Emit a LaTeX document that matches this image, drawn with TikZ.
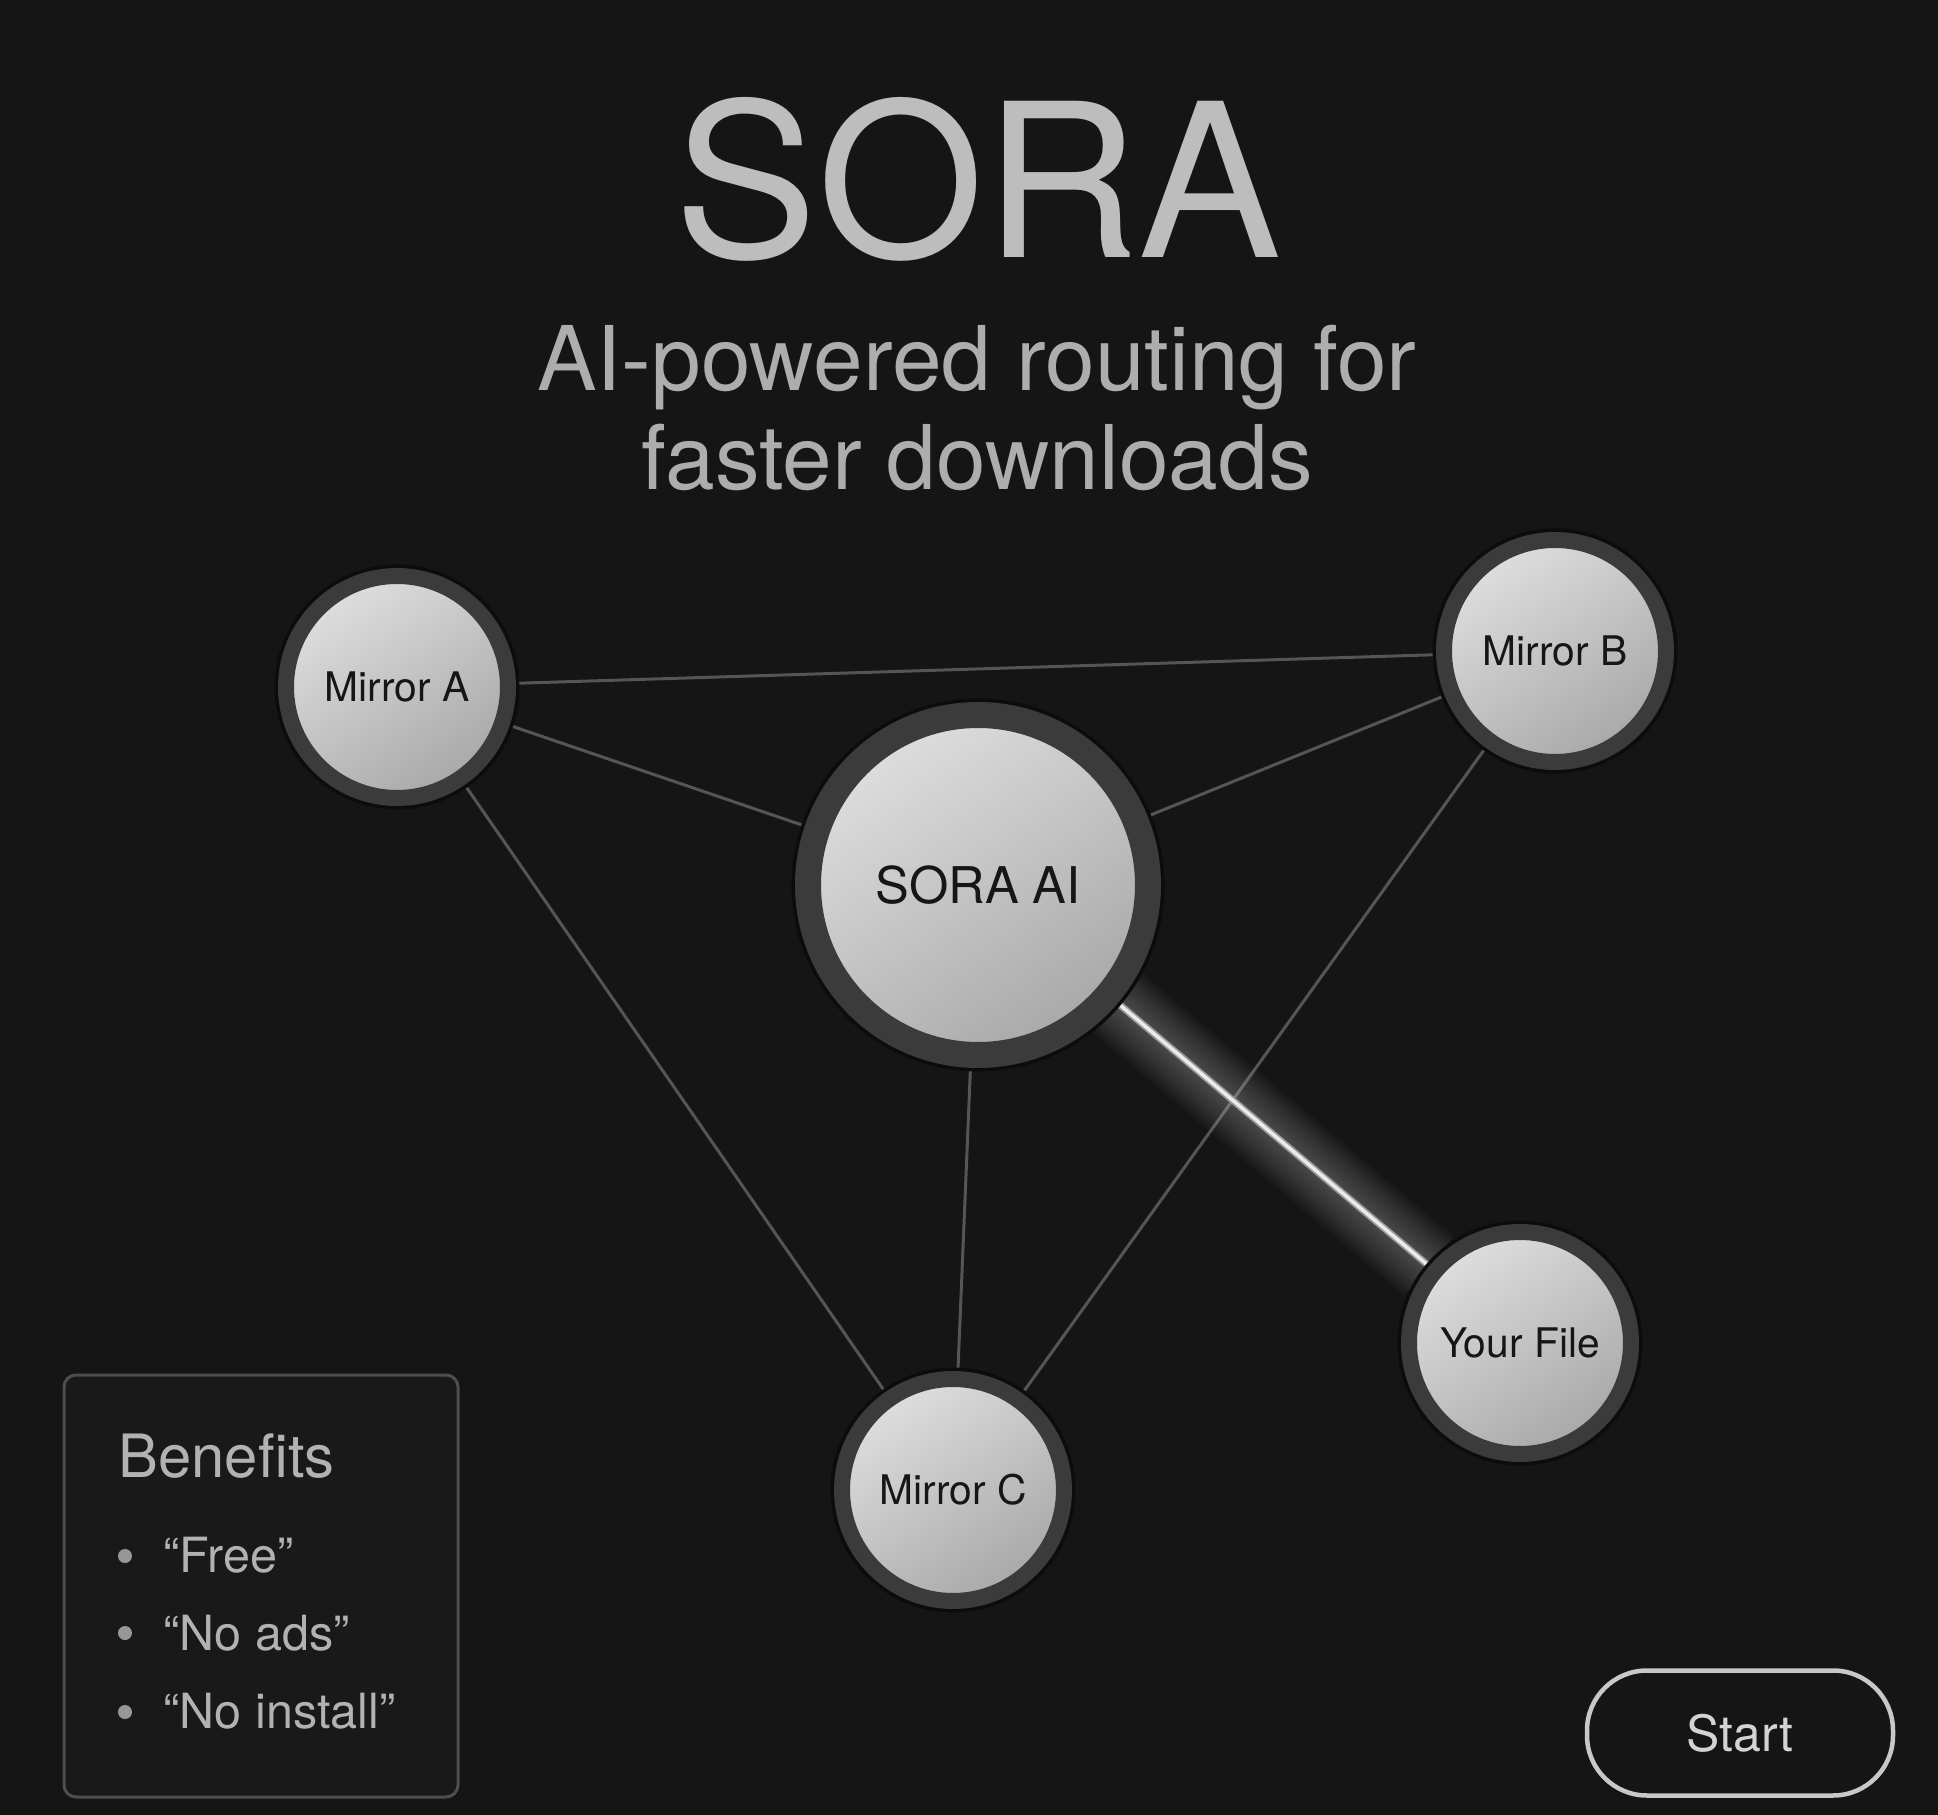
\documentclass[tikz,border=0pt]{standalone}
\usepackage{fontspec}
\setmainfont{TeX Gyre Heros}
\usetikzlibrary{positioning}
\definecolor{soraback}{HTML}{151515}
\definecolor{soraring}{HTML}{3B3B3B}
\definecolor{sorarim}{HTML}{0C0C0C}
\definecolor{silverhi}{HTML}{DEDEDE}
\definecolor{silverlo}{HTML}{A8A8A8}
\definecolor{soraink}{HTML}{161616}
\definecolor{soratitle}{HTML}{BDBDBD}
\definecolor{sorasub}{HTML}{ADADAD}
\definecolor{soralink}{HTML}{555555}
\definecolor{glowedge}{HTML}{9A9A9A}
\definecolor{panelline}{HTML}{4E4E4E}
\definecolor{paneltext}{HTML}{B2B2B2}
\pgfdeclarelayer{backdrop}
\pgfdeclarelayer{links}
\pgfsetlayers{backdrop,links,main}
\tikzset{
  mirror/.style   = {circle, draw=soraring, line width=1.6mm, minimum size=22.2mm, inner sep=0pt,
                     top color=silverhi, bottom color=silverlo, shading angle=35,
                     preaction={draw=sorarim, line width=2.3mm},
                     text=soraink, font=\fontsize{11.6}{14}\selectfont},
  hub/.style      = {mirror, line width=2.6mm, minimum size=34mm,
                     preaction={draw=sorarim, line width=3.3mm},
                     font=\fontsize{14.4}{17}\selectfont},
  link/.style     = {draw=soralink, line width=0.3mm},
  panel/.style    = {draw=panelline, line width=0.3mm, fill=black!90!white, rounded corners=1.2mm,
                     minimum width=39.4mm, minimum height=42.2mm},
  item/.style     = {anchor=base west, inner sep=0pt, text=paneltext, font=\fontsize{13.8}{16}\selectfont},
  itemdot/.style  = {circle, fill=paneltext!85!black, minimum size=1.4mm, inner sep=0pt},
  startbtn/.style = {draw=silverhi!90!black, line width=0.45mm, rounded corners=6mm,
                     minimum width=30.6mm, minimum height=12.5mm, text=silverhi!95!black,
                     font=\fontsize{14.2}{16}\selectfont},
}

\begin{document}
\begin{tikzpicture}[x=0.1mm, y=-0.1mm,
  headline/.style={anchor=base, inner sep=0pt, text=soratitle, font=\fontsize{61}{61}\selectfont},
  subline/.style={anchor=base, inner sep=0pt, text=sorasub, font=\fontsize{25.4}{28}\selectfont}]
  \useasboundingbox (0,0) rectangle (1938,1815);
  \begin{pgfonlayer}{backdrop}
    \fill[soraback] (0,0) rectangle (1938,1815);
  \end{pgfonlayer}
  % heading
  \node[headline] (title) at (978,258) {SORA};
  \node[subline] (sub1) at (977,391) {AI-powered routing for};
  \node[subline] (sub2) at (977,490) {faster downloads};
  % routing graph
  \node[hub] (hub) at (978,885) {SORA AI};
  \node[mirror] (mirA) at (397,687) {Mirror A};
  \node[mirror] (mirB) at (1555,651) {Mirror B};
  \node[mirror] (mirC) at (953,1490) {Mirror C};
  \node[mirror] (file) at (1520,1343) {Your File};
  \begin{pgfonlayer}{links}
    \draw[link] (mirA) -- (mirB);
    \draw[link] (mirA) -- (hub);
    \draw[link] (mirB) -- (hub);
    \draw[link] (mirA) -- (mirC);
    \draw[link] (hub) -- (mirC);
    \draw[link] (mirB) -- (mirC);
    % highlighted route
    \foreach \w in {1,...,12}
      \draw[white, line width=0.65*\w mm, opacity=0.022] (hub) -- (file);
    \draw[glowedge, line width=0.7mm] (hub) -- (file);
    \draw[white!92!black, line width=0.35mm] (hub) -- (file);
  \end{pgfonlayer}
  % benefits panel
  \node[panel] (benefits) at (261,1586) {};
  \node[item, font=\fontsize{17}{20}\selectfont] (bhead) at (118,1477) {Benefits};
  \node[itemdot] (dot1) at (125,1556) {};
  \node[itemdot] (dot2) at (125,1633) {};
  \node[itemdot] (dot3) at (125,1712) {};
  \node[item] (free) at (163,1572) {“Free”};
  \node[item] (noads) at (163,1650) {“No ads”};
  \node[item] (noinst) at (163,1728) {“No install”};
  % action
  \node[startbtn] (start) at (1740,1733) {Start};
\end{tikzpicture}
\end{document}
